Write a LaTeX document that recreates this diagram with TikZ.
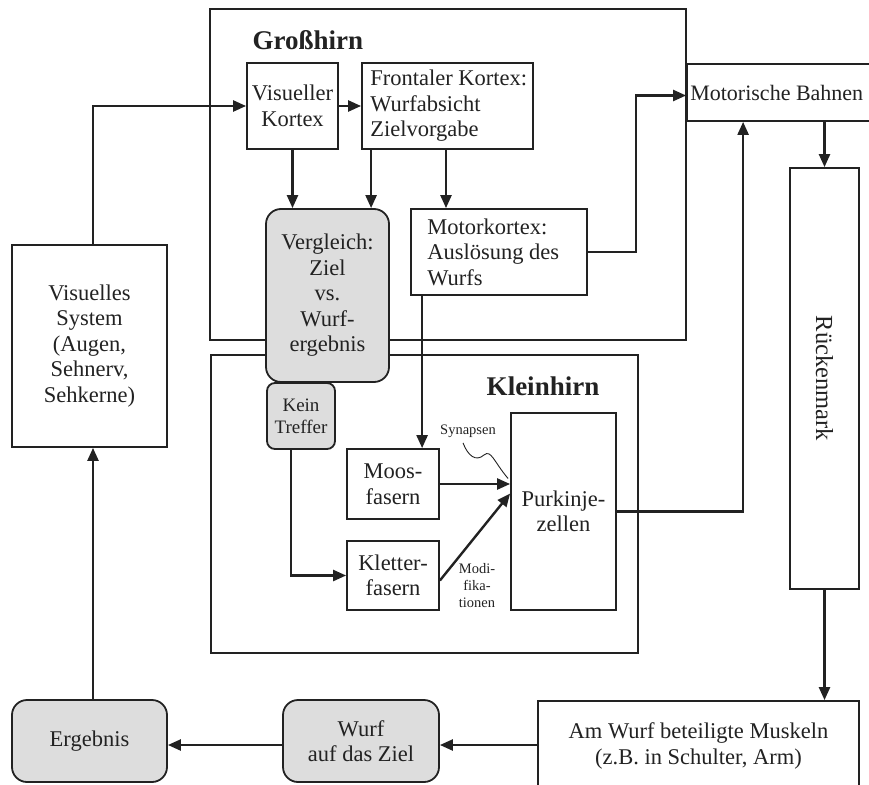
\documentclass[tikz,border=0pt]{standalone}
\usepackage{fontspec}
\setmainfont{Liberation Serif}
\usetikzlibrary{arrows.meta,calc}
\definecolor{boxgray}{HTML}{DDDDDD}
\definecolor{ink}{HTML}{222222}
\begin{document}
\begin{tikzpicture}[x=1pt,y=-1pt,
  every node/.style={font=\fontsize{22.5}{25.5}\selectfont, text=ink},
  box/.style={draw=ink, line width=1.8pt, fill=white, rectangle, inner sep=0pt, align=center},
  region/.style={box, fill=none},
  gbox/.style={box, fill=boxgray, rounded corners=15pt},
  arr/.style={draw=ink, line width=2.4pt, -{Triangle[length=13pt,width=11pt]}},
  txt/.style={inner sep=0pt, align=left, anchor=west},
  head/.style={font=\fontsize{27}{30}\selectfont\bfseries},
  small/.style={font=\fontsize{14.5}{17}\selectfont, align=center}
]
\useasboundingbox (0,0) rectangle (869,784);
\clip (0,0) rectangle (869,784);

% regions
\node[region, minimum width=476pt, minimum height=331pt] (gross) at (448,174.5) {};
\node[head, anchor=west] (grosst) at (249,40) {Großhirn};
\node[region, minimum width=427pt, minimum height=298pt] (klein) at (424.5,504) {};
\node[head] (kleint) at (543,386) {Kleinhirn};

% boxes
\node[box, minimum width=91pt, minimum height=86pt] (vk) at (292.5,106) {Visueller\\Kortex};
\node[box, minimum width=171pt, minimum height=86pt] (fk) at (447.5,106) {};
\node[txt] (fkt) at ($(fk.west)+(9,0)$) {Frontaler Kortex:\\Wurfabsicht\\Zielvorgabe};
\node[box, minimum width=176pt, minimum height=86pt] (mk) at (499,252) {};
\node[txt] (mkt) at ($(mk.west)+(17,0)$) {Motorkortex:\\Auslösung des\\Wurfs};
\node[box, minimum width=193pt, minimum height=57pt] (mb) at (783.5,92.5) {};
\node[txt, font=\fontsize{22}{25}\selectfont] (mbt) at ($(mb.west)+(4,0)$) {Motorische Bahnen};
\node[box, minimum width=69pt, minimum height=421pt] (rm) at (824.5,378.5) {};
\node[rotate=-90, font=\fontsize{24.5}{27}\selectfont] (rmt) at (rm.center) {Rückenmark};
\node[box, minimum width=155pt, minimum height=202pt] (vs) at (89.5,346) {Visuelles\\System\\(Augen,\\Sehnerv,\\Sehkerne)};
\node[box, minimum width=92pt, minimum height=70pt] (moos) at (393,484) {Moos-\\fasern};
\node[box, minimum width=92pt, minimum height=69pt] (klet) at (393,575.5) {Kletter-\\fasern};
\node[box, minimum width=105pt, minimum height=197pt] (purk) at (563.5,511.5) {Purkinje-\\zellen};
\node[gbox, minimum width=123pt, minimum height=173pt] (verg) at (327.5,295.5) {Vergleich:\\Ziel\\vs.\\Wurf-\\ergebnis};
\node[gbox, rounded corners=8pt, minimum width=68pt, minimum height=66pt, font=\fontsize{19}{22}\selectfont] (kt) at (301,416) {Kein\\Treffer};
\node[box, minimum width=321pt, minimum height=90pt] (musk) at (698.5,746) {Am Wurf beteiligte Muskeln\\(z.B. in Schulter, Arm)};
\node[gbox, minimum width=156pt, minimum height=82pt] (wurf) at (361,741) {Wurf\\auf das Ziel};
\node[gbox, minimum width=155pt, minimum height=82pt] (erg) at (89.5,741) {Ergebnis};

% small labels
\node[small] (syn) at (468,431) {Synapsen};
\node[small] (modi) at (477,586) {Modi-\\fika-\\tionen};

% helper coordinates
\coordinate (vsx) at ($(vs.north)+(3.5,0)$);
\coordinate (ergx) at ($(erg.north)+(3.5,0)$);
\coordinate (fa) at ($(fk.south west)+(10,0)$);
\coordinate (fb) at ($(fk.south)+(-1.5,0)$);
\coordinate (ma) at ($(mk.south west)+(12,0)$);
\coordinate (ka) at ($(kt.south)+(-10,0)$);
\coordinate (kla) at ($(klet.east)+(0,5)$);
\coordinate (pa) at ($(purk.west)+(0,-18)$);
\coordinate (pm) at ($(mb.south west)+(57,0)$);
\coordinate (wa) at ($(wurf.east)+(0,4)$);
\coordinate (wb) at ($(wurf.west)+(0,4)$);
\coordinate (sa) at ($(syn.south)+(-5,2)$);
\coordinate (sb) at ($(purk.west)+(-2,-33)$);

% connectors
\draw[arr] (vsx) |- (vk.west);
\draw[arr] (vk.east) -- (fk.west);
\draw[arr] (vk.south) -- (vk.south |- verg.north);
\draw[arr] (fa) -- (fa |- verg.north);
\draw[arr] (fb) -- (fb |- mk.north);
\draw[arr] (mk.east) -- ++(48,0) |- ($(mb.west)+(0,3)$);
\draw[arr] (ma) -- (ma |- moos.north);
\draw[arr] (ka) |- (klet.west);
\draw[arr] (moos.east) -- (moos.east -| purk.west);
\draw[arr] (kla) -- (pa);
\draw[arr] (purk.east) -| (pm);
\draw[arr] (mb.south -| rm.north) -- (rm.north);
\draw[arr] (rm.south) -- (rm.south |- musk.north);
\draw[arr] (musk.west |- wa) -- (wa);
\draw[arr] (wb) -- (wb -| erg.east);
\draw[arr] (ergx) -- (ergx |- vs.south);
\draw[draw=ink, line width=0.9pt] (sa) .. controls (468,456) and (476,462) .. (484,455) .. controls (491,449) and (494,462) .. (sb);
\end{tikzpicture}
\end{document}
